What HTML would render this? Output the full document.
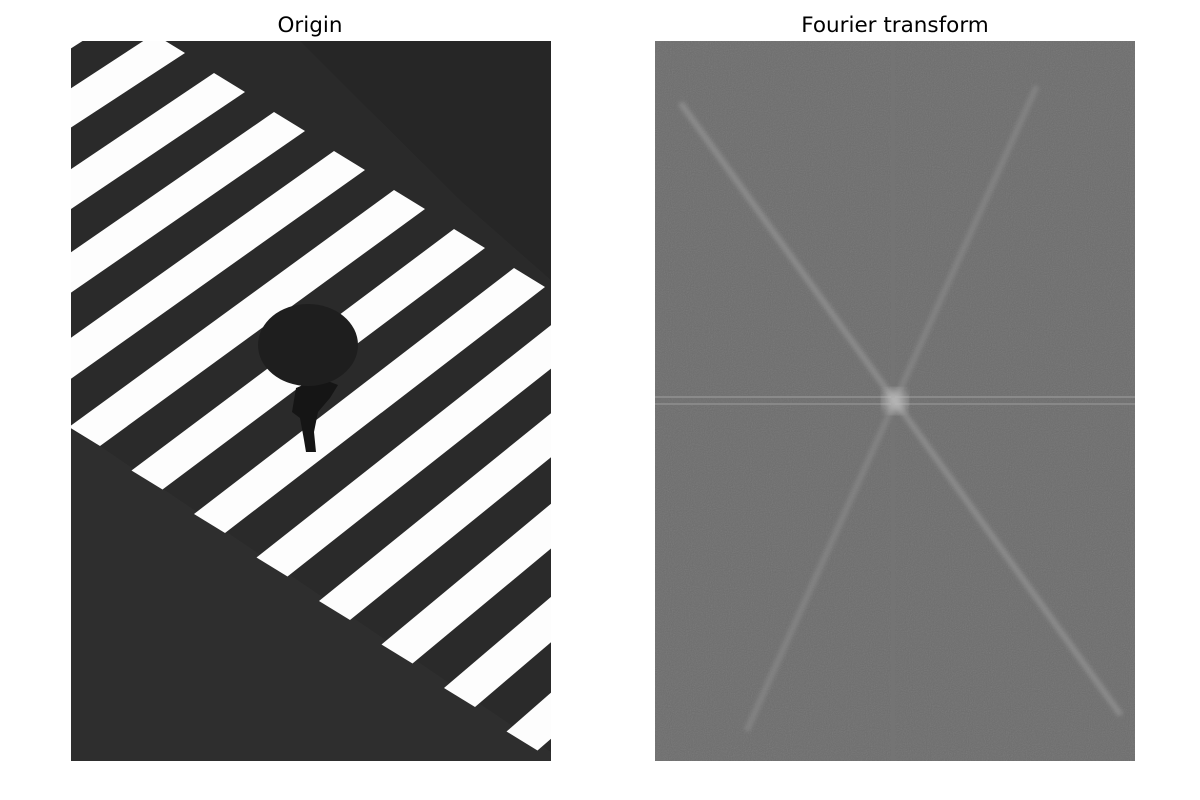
<!DOCTYPE html>
<html><head><meta charset="utf-8"><style>
html,body{margin:0;padding:0;background:#fff;}
svg{display:block;font-family:"DejaVu Sans","Liberation Sans",sans-serif;}
</style></head><body>
<svg width="1200" height="800" viewBox="0 0 1200 800">
<defs>
<clipPath id="cl"><rect x="71" y="41" width="480" height="720"/></clipPath>
<clipPath id="cr"><rect x="655" y="41" width="480" height="720"/></clipPath>
<filter id="noise" x="0" y="0" width="100%" height="100%">
<feTurbulence type="fractalNoise" baseFrequency="0.95" numOctaves="2" seed="3"/>
<feColorMatrix type="saturate" values="0"/>
</filter>
<filter id="blur2"><feGaussianBlur stdDeviation="2"/></filter>
<filter id="blur4"><feGaussianBlur stdDeviation="5"/></filter>
</defs>

<text x="310" y="32" text-anchor="middle" font-size="21.5" fill="#000">Origin</text>
<text x="895" y="32" text-anchor="middle" font-size="21.5" fill="#000">Fourier transform</text>

<g clip-path="url(#cl)">
  <rect x="71" y="41" width="480" height="720" fill="#2a2a2a"/>
  <polygon points="71,430 71,761 551,761 551,752 100,446" fill="#2e2e2e"/>
  <polygon points="300,41 551,41 551,280 460,200" fill="#262626"/>
  <g id="stripes"></g>
  <g>
    <path d="M296 388 L292 412 L300 418 L304 440 L306 452 L316 452 L314 432 L318 412 L330 398 L338 385 L320 378 Z" fill="#151515"/>
    <ellipse cx="308" cy="345" rx="50" ry="41" fill="#1e1e1e"/>
  </g>
</g>

<g clip-path="url(#cr)">
  <rect x="655" y="41" width="480" height="720" fill="#6c6c6c"/>
  <rect x="655" y="41" width="480" height="720" filter="url(#noise)" opacity="0.18"/>
  <g>
    <line x1="655" y1="397" x2="1135" y2="397" stroke="#8a8a8a" stroke-width="2"/>
    <line x1="655" y1="404" x2="1135" y2="404" stroke="#888" stroke-width="2"/>
    <line x1="893" y1="41" x2="893" y2="761" stroke="#747474" stroke-width="4"/>
    <line id="d1" stroke="#9c9c9c" stroke-width="6" opacity="0.6" filter="url(#blur2)"/>
    <line id="d2" stroke="#8e8e8e" stroke-width="6" opacity="0.6" filter="url(#blur2)"/>
    <circle cx="895" cy="401" r="12" fill="#d0d0d0" opacity="0.6" filter="url(#blur4)"/>
  </g>
</g>

<script>
// stripe index and cap corner positions
const stripeIdx = [-8,-7,-6,-5,-4,-3,-2,-1,0,1,2,3,4,5,6,7];
const bottomStart = [100, 446];
const bottomStep = [62.5, 43.5];
const topStart = [425, 209];
const topStep = [60, 39];
const cap = [-31, -19];
const g = document.getElementById('stripes');
stripeIdx.forEach(i => {
  const B = [bottomStart[0] + bottomStep[0]*i, bottomStart[1] + bottomStep[1]*i];
  const T = [topStart[0] + topStep[0]*i, topStart[1] + topStep[1]*i];
  const p = document.createElementNS('http://www.w3.org/2000/svg', 'polygon');
  p.setAttribute('points', [B, [B[0]+cap[0], B[1]+cap[1]], [T[0]+cap[0], T[1]+cap[1]], T].map(q => q.join(',')).join(' '));
  p.setAttribute('fill', '#fdfdfd');
  
  
  g.appendChild(p);
});
const cx = 895, cy = 401;
const d1 = document.getElementById('d1');
d1.setAttribute('x1', cx - 195*1.1); d1.setAttribute('y1', cy - 271*1.1);
d1.setAttribute('x2', cx + 215*1.05); d1.setAttribute('y2', cy + 299*1.05);


const d2 = document.getElementById('d2');
d2.setAttribute('x1', cx + 135*1.05); d2.setAttribute('y1', cy - 300*1.05);
d2.setAttribute('x2', cx - 135*1.1); d2.setAttribute('y2', cy + 300*1.1);


</script>
</svg>
</body></html>
